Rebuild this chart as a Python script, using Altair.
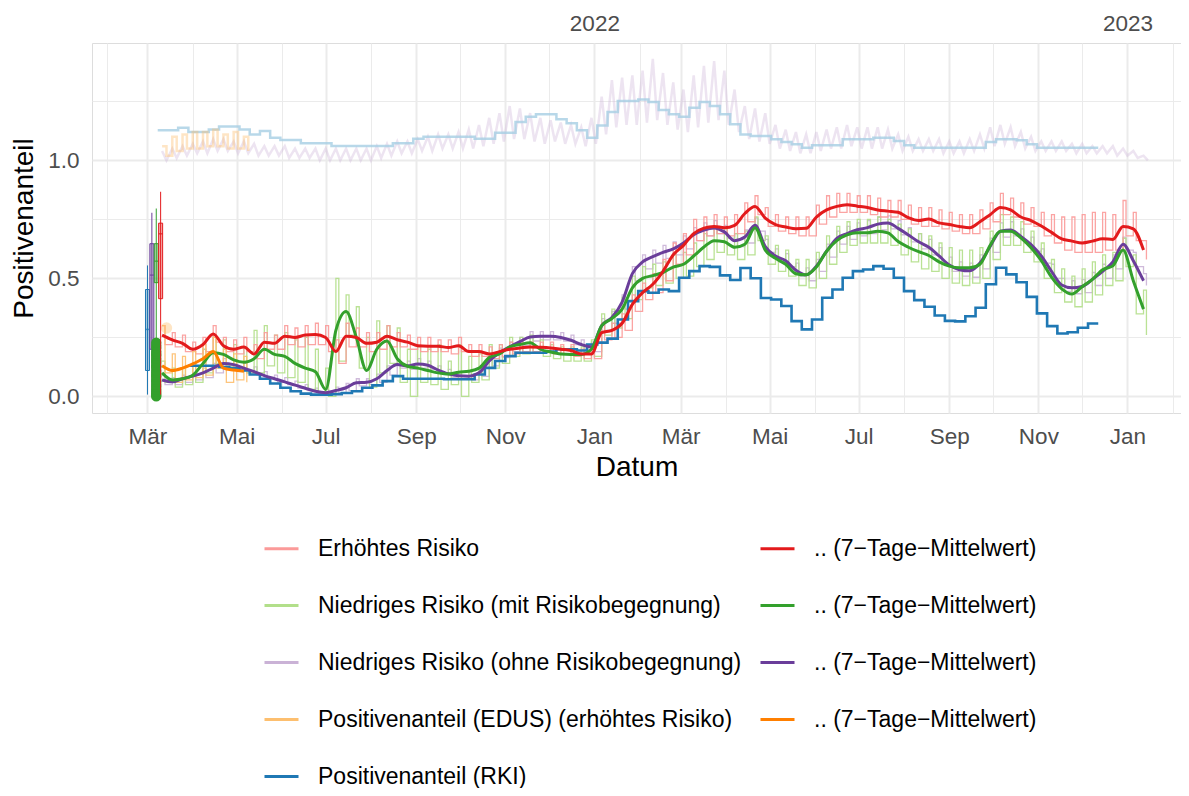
import altair as alt
import pandas as pd

# ---------------- Daten ----------------
serien_keys = ["E", "M", "O", "D", "R", "E7", "M7", "O7", "D7"]
serien_labels = [
    "Erhöhtes Risiko",
    "Niedriges Risiko (mit Risikobegegnung)",
    "Niedriges Risiko (ohne Risikobegegnung)",
    "Positivenanteil (EDUS) (erhöhtes Risiko)",
    "Positivenanteil (RKI)",
    ".. (7−Tage−Mittelwert)", ".. (7−Tage−Mittelwert)",
    ".. (7−Tage−Mittelwert)", ".. (7−Tage−Mittelwert)",
]

# Wochenraster (Donnerstag, ab 11.03.2021)
wochen_start = "2021-03-11"

erhoeht_mittel = [
    0.26, 0.24, 0.225, 0.20, 0.22, 0.265, 0.215, 0.20, 0.21, 0.18,
    0.23, 0.225, 0.255, 0.25, 0.26, 0.262, 0.25, 0.19, 0.255, 0.25,
    0.225, 0.23, 0.255, 0.24, 0.23, 0.215, 0.213, 0.213, 0.207, 0.215,
    0.19, 0.19, 0.18, 0.19, 0.20, 0.205, 0.21, 0.208, 0.205, 0.20,
    0.195, 0.18, 0.18, 0.27, 0.28, 0.31, 0.39, 0.44, 0.475, 0.53,
    0.60, 0.64, 0.69, 0.713, 0.72, 0.715, 0.725, 0.775, 0.805, 0.755,
    0.728, 0.718, 0.71, 0.712, 0.76, 0.79, 0.805, 0.812, 0.806, 0.80,
    0.79, 0.785, 0.78, 0.757, 0.745, 0.752, 0.735, 0.728, 0.72, 0.715,
    0.74, 0.77, 0.80, 0.79, 0.76, 0.745, 0.722, 0.695, 0.667, 0.658,
    0.65, 0.658, 0.668, 0.665, 0.72, 0.71, 0.62]

mit_mittel = [
    0.10, 0.07, 0.075, 0.09, 0.14, 0.185, 0.178, 0.155, 0.145, 0.16,
    0.20, 0.178, 0.17, 0.14, 0.12, 0.105, 0.03, 0.28, 0.36, 0.25,
    0.11, 0.20, 0.235, 0.16, 0.128, 0.12, 0.11, 0.10, 0.095, 0.103,
    0.107, 0.12, 0.165, 0.18, 0.21, 0.22, 0.228, 0.20, 0.188, 0.18,
    0.178, 0.178, 0.20, 0.30, 0.33, 0.37, 0.46, 0.50, 0.512, 0.525,
    0.548, 0.56, 0.595, 0.633, 0.66, 0.655, 0.632, 0.645, 0.715, 0.62,
    0.585, 0.56, 0.52, 0.515, 0.548, 0.615, 0.66, 0.684, 0.693, 0.693,
    0.70, 0.693, 0.656, 0.632, 0.613, 0.597, 0.57, 0.552, 0.545, 0.545,
    0.56, 0.64, 0.70, 0.70, 0.672, 0.63, 0.575, 0.505, 0.456, 0.434,
    0.465, 0.496, 0.537, 0.553, 0.62, 0.49, 0.37]

ohne_mittel = [
    0.07, 0.062, 0.075, 0.086, 0.10, 0.12, 0.14, 0.135, 0.12, 0.105,
    0.088, 0.075, 0.062, 0.048, 0.035, 0.022, 0.016, 0.025, 0.037, 0.058,
    0.06, 0.075, 0.11, 0.135, 0.13, 0.138, 0.132, 0.112, 0.096, 0.088,
    0.086, 0.10, 0.15, 0.185, 0.21, 0.232, 0.252, 0.255, 0.255, 0.25,
    0.238, 0.22, 0.21, 0.30, 0.335, 0.40, 0.52, 0.57, 0.592, 0.61,
    0.625, 0.65, 0.685, 0.705, 0.714, 0.697, 0.66, 0.675, 0.725, 0.635,
    0.595, 0.575, 0.535, 0.515, 0.552, 0.615, 0.67, 0.69, 0.706, 0.715,
    0.73, 0.735, 0.712, 0.684, 0.655, 0.632, 0.595, 0.557, 0.537, 0.532,
    0.565, 0.635, 0.70, 0.705, 0.678, 0.643, 0.595, 0.53, 0.472, 0.46,
    0.466, 0.496, 0.53, 0.57, 0.645, 0.575, 0.49]

edus_mittel = [0.13, 0.11, 0.12, 0.138, 0.16, 0.19, 0.12, 0.112, 0.107]

# Tageswerte: je Woche Hoch- und Tiefwert
erhoeht_hoch = [
    0.30, 0.27, 0.26, 0.23, 0.25, 0.30, 0.25, 0.24, 0.25, 0.22,
    0.27, 0.26, 0.30, 0.29, 0.30, 0.31, 0.30, 0.24, 0.31, 0.29,
    0.27, 0.27, 0.30, 0.27, 0.26, 0.25, 0.25, 0.24, 0.24, 0.25,
    0.22, 0.22, 0.21, 0.22, 0.23, 0.23, 0.23, 0.23, 0.23, 0.22,
    0.22, 0.20, 0.21, 0.31, 0.31, 0.35, 0.43, 0.48, 0.52, 0.58,
    0.65, 0.69, 0.75, 0.76, 0.77, 0.76, 0.77, 0.82, 0.85, 0.80,
    0.77, 0.76, 0.76, 0.76, 0.81, 0.85, 0.86, 0.86, 0.85, 0.85,
    0.84, 0.83, 0.83, 0.81, 0.80, 0.80, 0.79, 0.78, 0.77, 0.77,
    0.79, 0.82, 0.86, 0.84, 0.82, 0.80, 0.78, 0.77, 0.76, 0.76,
    0.77, 0.78, 0.78, 0.77, 0.83, 0.78, 0.66]
erhoeht_tief = [
    0.22, 0.21, 0.19, 0.18, 0.19, 0.23, 0.19, 0.18, 0.19, 0.16,
    0.20, 0.20, 0.22, 0.21, 0.22, 0.22, 0.19, 0.14, 0.21, 0.21,
    0.19, 0.20, 0.21, 0.21, 0.20, 0.19, 0.19, 0.19, 0.18, 0.19,
    0.17, 0.17, 0.16, 0.17, 0.18, 0.19, 0.19, 0.19, 0.18, 0.18,
    0.17, 0.16, 0.16, 0.24, 0.25, 0.28, 0.36, 0.41, 0.44, 0.49,
    0.56, 0.60, 0.66, 0.68, 0.69, 0.68, 0.69, 0.74, 0.77, 0.72,
    0.70, 0.69, 0.68, 0.68, 0.73, 0.76, 0.78, 0.78, 0.78, 0.77,
    0.76, 0.76, 0.75, 0.73, 0.72, 0.72, 0.71, 0.70, 0.69, 0.69,
    0.71, 0.74, 0.77, 0.76, 0.73, 0.72, 0.68, 0.65, 0.62, 0.61,
    0.61, 0.61, 0.62, 0.62, 0.68, 0.66, 0.58]

mit_hoch = [
    0.15, 0.12, 0.12, 0.14, 0.20, 0.26, 0.24, 0.22, 0.21, 0.28,
    0.30, 0.26, 0.27, 0.24, 0.25, 0.20, 0.12, 0.50, 0.43, 0.38,
    0.25, 0.32, 0.30, 0.29, 0.20, 0.21, 0.20, 0.22, 0.15, 0.22,
    0.17, 0.18, 0.22, 0.22, 0.25, 0.25, 0.26, 0.24, 0.22, 0.21,
    0.21, 0.21, 0.24, 0.35, 0.37, 0.42, 0.51, 0.55, 0.56, 0.57,
    0.60, 0.61, 0.65, 0.69, 0.72, 0.71, 0.69, 0.70, 0.76, 0.68,
    0.64, 0.62, 0.58, 0.58, 0.61, 0.68, 0.72, 0.74, 0.75, 0.75,
    0.76, 0.75, 0.73, 0.71, 0.69, 0.68, 0.65, 0.63, 0.62, 0.62,
    0.63, 0.70, 0.77, 0.76, 0.74, 0.70, 0.65, 0.58, 0.54, 0.51,
    0.54, 0.57, 0.60, 0.61, 0.67, 0.60, 0.45]
mit_tief = [
    0.06, 0.04, 0.05, 0.06, 0.10, 0.14, 0.13, 0.11, 0.10, 0.10,
    0.13, 0.10, 0.08, 0.06, 0.03, 0.02, 0.00, 0.15, 0.26, 0.12,
    0.04, 0.10, 0.14, 0.06, 0.00, 0.06, 0.05, 0.03, 0.05, 0.00,
    0.06, 0.07, 0.12, 0.14, 0.17, 0.18, 0.19, 0.17, 0.16, 0.15,
    0.15, 0.15, 0.17, 0.26, 0.29, 0.33, 0.41, 0.46, 0.47, 0.48,
    0.50, 0.51, 0.55, 0.58, 0.61, 0.60, 0.58, 0.60, 0.66, 0.56,
    0.53, 0.51, 0.47, 0.46, 0.50, 0.56, 0.61, 0.64, 0.65, 0.65,
    0.65, 0.64, 0.60, 0.57, 0.54, 0.53, 0.50, 0.48, 0.47, 0.48,
    0.50, 0.58, 0.64, 0.64, 0.61, 0.57, 0.50, 0.44, 0.40, 0.38,
    0.40, 0.43, 0.47, 0.49, 0.55, 0.35, 0.26]

ohne_hoch = [
    0.09, 0.08, 0.09, 0.10, 0.12, 0.14, 0.16, 0.155, 0.14, 0.125,
    0.105, 0.09, 0.08, 0.065, 0.05, 0.035, 0.03, 0.04, 0.055, 0.075,
    0.075, 0.095, 0.13, 0.155, 0.15, 0.16, 0.15, 0.13, 0.115, 0.105,
    0.10, 0.12, 0.17, 0.205, 0.23, 0.25, 0.275, 0.275, 0.275, 0.27,
    0.26, 0.24, 0.23, 0.33, 0.36, 0.43, 0.55, 0.60, 0.62, 0.64,
    0.655, 0.68, 0.715, 0.735, 0.745, 0.725, 0.69, 0.705, 0.755, 0.665,
    0.625, 0.605, 0.565, 0.545, 0.58, 0.645, 0.70, 0.72, 0.735, 0.745,
    0.76, 0.765, 0.745, 0.715, 0.69, 0.665, 0.63, 0.59, 0.57, 0.565,
    0.60, 0.67, 0.735, 0.74, 0.71, 0.675, 0.625, 0.56, 0.50, 0.49,
    0.495, 0.525, 0.56, 0.60, 0.675, 0.61, 0.52]
ohne_tief = [
    0.05, 0.05, 0.06, 0.07, 0.08, 0.10, 0.12, 0.12, 0.10, 0.09,
    0.075, 0.06, 0.05, 0.035, 0.025, 0.012, 0.008, 0.015, 0.025, 0.045,
    0.05, 0.06, 0.09, 0.12, 0.115, 0.12, 0.115, 0.095, 0.08, 0.075,
    0.07, 0.085, 0.13, 0.165, 0.19, 0.215, 0.235, 0.24, 0.24, 0.235,
    0.22, 0.20, 0.19, 0.28, 0.31, 0.37, 0.49, 0.54, 0.565, 0.585,
    0.60, 0.625, 0.66, 0.68, 0.69, 0.67, 0.635, 0.65, 0.70, 0.61,
    0.57, 0.55, 0.51, 0.49, 0.53, 0.59, 0.645, 0.665, 0.68, 0.69,
    0.705, 0.71, 0.685, 0.655, 0.625, 0.60, 0.565, 0.53, 0.51, 0.505,
    0.54, 0.61, 0.675, 0.68, 0.65, 0.615, 0.565, 0.50, 0.445, 0.435,
    0.44, 0.47, 0.50, 0.54, 0.62, 0.55, 0.47]

edus_hoch = [0.30, 0.18, 0.17, 0.19, 0.22, 0.25, 0.20, 0.18, 0.17]
edus_tief = [0.10, 0.06, 0.07, 0.08, 0.09, 0.12, 0.06, 0.07, 0.06]

# blasse Linien im oberen Bereich
oben_lila_hoch = [
    1.04, 1.05, 1.06, 1.07, 1.08, 1.09, 1.09, 1.08, 1.08, 1.07,
    1.06, 1.06, 1.06, 1.05, 1.05, 1.05, 1.05, 1.05, 1.05, 1.05,
    1.05, 1.06, 1.07, 1.08, 1.08, 1.09, 1.10, 1.11, 1.11, 1.12,
    1.13, 1.15, 1.18, 1.20, 1.23, 1.22, 1.20, 1.18, 1.17, 1.16,
    1.15, 1.14, 1.18, 1.27, 1.34, 1.35, 1.36, 1.38, 1.43, 1.37,
    1.33, 1.30, 1.36, 1.40, 1.42, 1.38, 1.30, 1.23, 1.22, 1.20,
    1.15, 1.13, 1.12, 1.11, 1.12, 1.13, 1.14, 1.15, 1.14, 1.14,
    1.14, 1.13, 1.11, 1.10, 1.09, 1.09, 1.09, 1.08, 1.08, 1.09,
    1.11, 1.14, 1.15, 1.14, 1.12, 1.10, 1.08, 1.08, 1.08, 1.07,
    1.07, 1.06, 1.06, 1.06, 1.05, 1.04, 1.02]
oben_lila_tief = [
    1.00, 1.01, 1.02, 1.03, 1.03, 1.04, 1.04, 1.03, 1.03, 1.02,
    1.02, 1.02, 1.01, 1.01, 1.01, 1.00, 1.00, 1.00, 1.00, 1.00,
    1.00, 1.01, 1.02, 1.03, 1.03, 1.04, 1.04, 1.05, 1.05, 1.05,
    1.05, 1.06, 1.07, 1.08, 1.09, 1.09, 1.08, 1.07, 1.08, 1.07,
    1.07, 1.06, 1.07, 1.11, 1.14, 1.15, 1.15, 1.16, 1.17, 1.15,
    1.13, 1.12, 1.14, 1.16, 1.17, 1.15, 1.12, 1.09, 1.08, 1.07,
    1.05, 1.04, 1.03, 1.03, 1.04, 1.05, 1.05, 1.06, 1.05, 1.05,
    1.05, 1.05, 1.04, 1.04, 1.04, 1.04, 1.03, 1.03, 1.03, 1.04,
    1.05, 1.06, 1.07, 1.06, 1.05, 1.04, 1.04, 1.04, 1.04, 1.03,
    1.03, 1.03, 1.03, 1.02, 1.02, 1.01, 1.00]
oben_edus_hoch = [1.06, 1.10, 1.11, 1.12, 1.12, 1.13, 1.11, 1.12, 1.10]
oben_edus_tief = [1.02, 1.04, 1.05, 1.05, 1.06, 1.06, 1.05, 1.05, 1.04]

# RKI-Wochenwerte (Montag, ab 29.03.2021)
rki_start = "2021-03-29"
rki_werte = [
    0.13, 0.13, 0.13, 0.125, 0.12, 0.11, 0.093, 0.075, 0.055, 0.037,
    0.022, 0.012, 0.008, 0.008, 0.01, 0.015, 0.022, 0.037, 0.047, 0.065,
    0.086, 0.075, 0.075, 0.075, 0.075, 0.073, 0.073, 0.073, 0.093, 0.121,
    0.15, 0.171, 0.185, 0.185, 0.185, 0.19, 0.20, 0.20, 0.195, 0.22,
    0.228, 0.245, 0.326, 0.404, 0.446, 0.439, 0.453, 0.446, 0.503, 0.531,
    0.552, 0.549, 0.513, 0.493, 0.544, 0.501, 0.417, 0.411, 0.383, 0.319,
    0.284, 0.326, 0.418, 0.453, 0.503, 0.531, 0.538, 0.552, 0.541, 0.503,
    0.446, 0.408, 0.38, 0.343, 0.32, 0.318, 0.34, 0.376, 0.475, 0.545,
    0.517, 0.484, 0.422, 0.352, 0.298, 0.267, 0.272, 0.291, 0.309, 0.309]

# blasse blaue Stufenlinie oben (Montag, ab 08.03.2021)
oben_blau_start = "2021-03-08"
oben_blau_werte = [
    1.128, 1.128, 1.138, 1.12, 1.12, 1.131, 1.143, 1.143, 1.131, 1.11,
    1.124, 1.096, 1.086, 1.086, 1.072, 1.072, 1.072, 1.061, 1.061, 1.061,
    1.061, 1.061, 1.061, 1.072, 1.072, 1.092, 1.10, 1.10, 1.10, 1.10,
    1.10, 1.092, 1.092, 1.117, 1.117, 1.162, 1.185, 1.195, 1.195, 1.174,
    1.157, 1.128, 1.096, 1.148, 1.205, 1.251, 1.251, 1.258, 1.247, 1.213,
    1.195, 1.185, 1.223, 1.247, 1.23, 1.195, 1.153, 1.11, 1.103, 1.103,
    1.089, 1.078, 1.068, 1.053, 1.064, 1.064, 1.064, 1.089, 1.089, 1.089,
    1.096, 1.096, 1.082, 1.064, 1.053, 1.053, 1.053, 1.053, 1.053, 1.053,
    1.053, 1.078, 1.089, 1.089, 1.085, 1.068, 1.053, 1.053, 1.053, 1.053,
    1.053, 1.053, 1.053]

# Boxplots Anfang März 2021
box_datum = ["2021-03-01", "2021-03-04", "2021-03-07", "2021-03-10"]
box_serie = ["R", "O7", "M7", "E7"]
box_min = [0.008, 0.0, 0.24, 0.008]
box_q1 = [0.11, 0.20, 0.482, 0.414]
box_median = [0.284, 0.514, 0.573, 0.689]
box_q3 = [0.453, 0.647, 0.647, 0.734]
box_max = [0.555, 0.778, 0.796, 0.867]

ausreisser_datum = "2021-03-07"
ausreisser_werte = [0.0, 0.005, 0.012, 0.02, 0.03, 0.041, 0.05, 0.062, 0.07, 0.083,
                    0.09, 0.10, 0.11, 0.125, 0.13, 0.142, 0.15, 0.16, 0.172, 0.18,
                    0.19, 0.205, 0.215, 0.228]
edus_punkt_datum = ["2021-03-14"]
edus_punkt_wert = [0.29]

# ---------------- Aufbereitung ----------------
wochen = pd.date_range(wochen_start, periods=97, freq="7D")


def mittel_df(werte, serie):
    return pd.DataFrame({"datum": wochen[:len(werte)], "wert": werte, "serie": serie})


def roh_df(hoch, tief, serie, tage=2):
    daten, werte = [], []
    for d, h, t in zip(wochen, hoch, tief):
        daten += [d, d + pd.Timedelta(days=tage)]
        werte += [h, t]
    return pd.DataFrame({"datum": daten, "wert": werte, "serie": serie})


rki_df = pd.DataFrame({"datum": pd.date_range(rki_start, periods=len(rki_werte), freq="7D"),
                       "wert": rki_werte, "serie": "R"})
oben_blau_df = pd.DataFrame({"datum": pd.date_range(oben_blau_start, periods=len(oben_blau_werte), freq="7D"),
                             "wert": oben_blau_werte})
box_df = pd.DataFrame({"datum": pd.to_datetime(box_datum), "serie": box_serie,
                       "lo": box_min, "q1": box_q1, "med": box_median, "q3": box_q3, "hi": box_max})
punkte_df = pd.DataFrame({"datum": pd.to_datetime([ausreisser_datum] * len(ausreisser_werte)),
                          "wert": ausreisser_werte, "serie": "M7"})
edus_punkt_df = pd.DataFrame({"datum": pd.to_datetime(edus_punkt_datum), "wert": edus_punkt_wert, "serie": "D"})

# ---------------- Stil ----------------
FONT = "Liberation Sans"
farben = ["#FB9A99", "#B2DF8A", "#CAB2D6", "#FDBF6F", "#1F78B4",
          "#E31A1C", "#33A02C", "#6A3D9A", "#FF7F00"]
GRID = "#EBEBEB"
TICKTXT = "#4D4D4D"

x_skala = alt.Scale(domain=[alt.DateTime(year=2021, month=1, date=25, hours=10, minutes=20),
                            alt.DateTime(year=2023, month=2, date=3, hours=5, minutes=45)],
                    nice=False)
y_skala = alt.Scale(domain=[-0.07, 1.497], nice=False, zero=False)

monate = [alt.DateTime(year=d.year, month=d.month, date=1)
          for d in pd.date_range("2021-02-01", "2023-02-01", freq="MS")]
monatsnamen = "['Jan','Feb','Mär','Apr','Mai','Jun','Jul','Aug','Sep','Okt','Nov','Dez']"

x_achse_unten = alt.Axis(
    values=monate, title="Datum",
    labelExpr=f"month(datum.value) % 2 == 0 ? {monatsnamen}[month(datum.value)] : ''",
    grid=True, gridColor=GRID,
    gridWidth={"condition": {"test": "month(datum.value) % 2 == 0", "value": 2}, "value": 1},
    ticks=False, tickSize=0, domain=False, labelOverlap=False, labelFlush=False,
    labelFont=FONT, labelFontSize=22.5, labelColor=TICKTXT, labelPadding=12,
    titleFont=FONT, titleFontSize=28, titleColor="black", titleFontWeight="normal",
    titlePadding=6)

x_achse_oben = alt.Axis(
    orient="top", values=[alt.DateTime(year=2022, month=1, date=1),
                          alt.DateTime(year=2023, month=1, date=1)],
    format="%Y", title=None, grid=False, ticks=False, tickSize=0, domain=False,
    labelOverlap=False, labelFlush=False,
    labelFont=FONT, labelFontSize=22.5, labelColor=TICKTXT, labelPadding=8)

y_achse = alt.Axis(
    values=[0, 0.25, 0.5, 0.75, 1.0, 1.25], title="Positivenanteil",
    labelExpr="abs(datum.value * 2 - round(datum.value * 2)) < 0.01 ? format(datum.value, '.1f') : ''",
    grid=True, gridColor=GRID,
    gridWidth={"condition": {"test": "abs(datum.value * 2 - round(datum.value * 2)) < 0.01", "value": 2},
               "value": 1},
    ticks=False, tickSize=0, domain=False, labelOverlap=False, labelFlush=False,
    labelFont=FONT, labelFontSize=22.5, labelColor=TICKTXT, labelPadding=13,
    titleFont=FONT, titleFontSize=28, titleColor="black", titleFontWeight="normal",
    titlePadding=9)

label_expr = " : ".join(
    f"datum.value == '{k}' ? '{l}'" for k, l in zip(serien_keys, serien_labels)) + " : ''"

legende = alt.Legend(
    title=None, orient="none", legendX=171, legendY=487, columns=2,
    symbolType="stroke", symbolSize=1156, symbolStrokeWidth=3, symbolOpacity=1,
    labelFont=FONT, labelFontSize=23, labelColor="black", labelOffset=18,
    labelLimit=1000, rowPadding=26, columnPadding=12, padding=0,
    labelExpr=label_expr)

farbskala = alt.Scale(domain=serien_keys, range=farben)
farbe = alt.Color("serie:N", scale=farbskala, legend=legende)
fuell = alt.Fill("serie:N", scale=farbskala, legend=None)
strich = alt.Stroke("serie:N", scale=farbskala, legend=None)


def X(axis=None):
    return alt.X("datum:T", scale=x_skala, axis=axis)


def Y(feld="wert"):
    return alt.Y(f"{feld}:Q", scale=y_skala, axis=y_achse)


# ---------------- Ebenen ----------------
oben_lila = alt.Chart(roh_df(oben_lila_hoch, oben_lila_tief, "O", 3)).mark_line(
    color="#CAB2D6", opacity=0.35, strokeWidth=2.5).encode(x=X(x_achse_unten), y=Y())
oben_blau = alt.Chart(oben_blau_df).mark_line(
    interpolate="step-after", color="#A6CEE3", opacity=0.8, strokeWidth=2.5).encode(x=X(x_achse_oben), y=Y())
oben_edus = alt.Chart(roh_df(oben_edus_hoch, oben_edus_tief, "D", 3)).mark_line(
    interpolate="step-after", color="#FDBF6F", opacity=0.4, strokeWidth=2.5).encode(x=X(), y=Y())


def roh(df):
    return alt.Chart(df).mark_line(interpolate="step-after", strokeWidth=1.3, opacity=0.9).encode(
        x=X(), y=Y(), color=farbe)


def mittel(df):
    return alt.Chart(df).mark_line(interpolate="monotone", strokeWidth=3).encode(
        x=X(), y=Y(), color=farbe)


roh_ohne = roh(roh_df(ohne_hoch, ohne_tief, "O"))
roh_mit = roh(roh_df(mit_hoch, mit_tief, "M"))
roh_erh = roh(roh_df(erhoeht_hoch, erhoeht_tief, "E"))
roh_edus = roh(roh_df(edus_hoch, edus_tief, "D"))
rki = alt.Chart(rki_df).mark_line(interpolate="step-after", strokeWidth=2.6).encode(
    x=X(), y=Y(), color=farbe)
m_ohne = mittel(mittel_df(ohne_mittel, "O7"))
m_mit = mittel(mittel_df(mit_mittel, "M7"))
m_edus = mittel(mittel_df(edus_mittel, "D7"))
m_erh = mittel(mittel_df(erhoeht_mittel, "E7"))


def boxen(filt):
    basis = alt.Chart(box_df).transform_filter(filt)
    whisker = basis.mark_rule(strokeWidth=1).encode(x=X(), y=Y("lo"), y2="hi:Q", stroke=strich)
    box_f = basis.mark_bar(size=4, fillOpacity=0.35).encode(x=X(), y=Y("q1"), y2="q3:Q", fill=fuell)
    box_s = basis.mark_bar(size=4, filled=False, strokeWidth=1).encode(
        x=X(), y=Y("q1"), y2="q3:Q", stroke=strich)
    med = basis.mark_tick(orient="horizontal", size=4, thickness=1.5).encode(x=X(), y=Y("med"), fill=fuell)
    return [whisker, box_f, box_s, med]


punkte = alt.Chart(punkte_df).mark_circle(size=106, opacity=1).encode(x=X(), y=Y(), fill=fuell)
edus_punkt = alt.Chart(edus_punkt_df).mark_circle(size=130, opacity=0.4).encode(x=X(), y=Y(), fill=fuell)

schichten = [oben_lila, oben_blau, oben_edus,
             roh_ohne, roh_mit, roh_erh, roh_edus, rki,
             m_ohne, m_mit, m_edus, m_erh]
schichten += boxen("datum.serie != 'E7'")
schichten += [punkte, edus_punkt]
schichten += boxen("datum.serie == 'E7'")

chart = alt.layer(*schichten).resolve_axis(x="independent").properties(
    width=1089, height=370,
    autosize=alt.AutoSizeParams(type="none"),
    padding={"left": 84, "top": 35, "right": 0, "bottom": 375},
    background="white",
).configure_view(stroke=None).configure(font=FONT)

chart.save("out.html", embed_options={"renderer": "svg", "actions": False})
